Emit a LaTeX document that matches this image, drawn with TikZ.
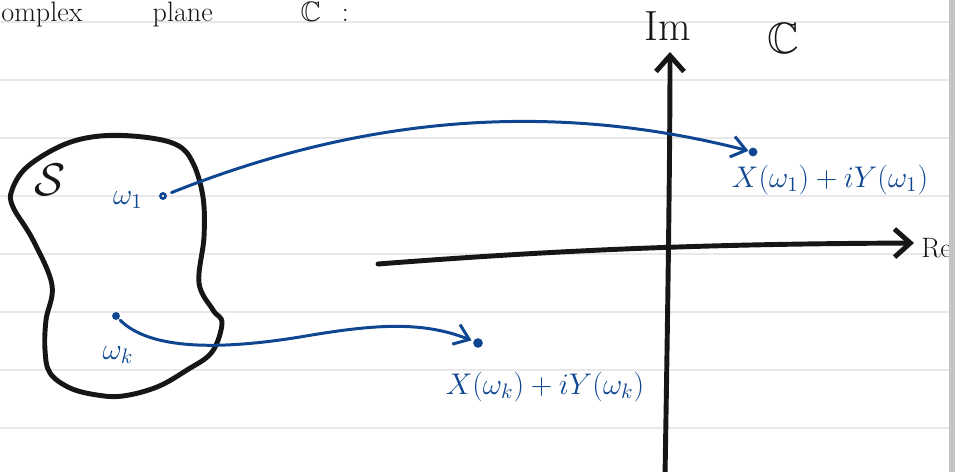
\RequirePackage{fix-cm}
\documentclass[tikz,border=0pt]{standalone}
\usepackage{amsmath,amssymb}
\usepackage{fontspec}
\usetikzlibrary{arrows.meta}
\definecolor{ink}{RGB}{14,70,145}
\definecolor{pen}{RGB}{22,22,22}
\definecolor{ruling}{RGB}{232,232,232}
\definecolor{scroll}{RGB}{196,196,196}
\begin{document}
\begin{tikzpicture}[x=0.02cm, y=-0.02cm,
  rule/.style={draw=ruling, line width=0.85pt},
  blob/.style={draw=pen, line width=2.8pt, line join=round},
  axis/.style={draw=pen, line width=2.8pt, line cap=round, -{Straight Barb[length=9pt,width=16pt]}},
  map/.style={draw=ink, line width=1.7pt, line cap=round, -{Straight Barb[length=8pt,width=12pt]}},
  spot/.style={circle, fill=ink, inner sep=0pt, minimum size=#1},
  ring/.style={circle, draw=ink, line width=1.4pt, inner sep=0pt, minimum size=3pt},
  lab/.style={text=ink, inner sep=0pt, font=\fontsize{17}{20}\selectfont},
  big/.style={text=pen, inner sep=0pt, font=\fontsize{#1}{#1}\selectfont}]
  \useasboundingbox (0,0) rectangle (960,472);
  \foreach \y in {22,80,...,428} \draw[rule] (0,\y) -- (951,\y);
  \node[big=16, anchor=base west] (title) at (1,22) {omplex\hspace{40pt}plane\hspace{50pt}$\mathbb{C}$\hspace{12pt}:};
  \draw[blob] plot[smooth cycle, tension=0.6] coordinates {(63,145) (100,136) (143,137) (177,145) (193,163) (203,197) (204,237) (199,283) (213,310) (222,323) (212,352) (187,370) (157,387) (123,396) (97,395) (70,388) (50,373) (45,350) (46,320) (52,285) (33,240) (13,207) (12,190) (27,167)};
  \node[big=26] (S) at (50,180) {$\mathcal{S}$};
  \node[lab] (w1) at (128,200) {$\omega_1$};
  \node[ring] (w1dot) at (163,196) {};
  \node[lab] (wk) at (118,355) {$\omega_k$};
  \node[spot=4.5pt] (wkdot) at (116,316) {};
  \coordinate (reA) at (378,264);
  \coordinate (reB) at (914,243);
  \coordinate (imA) at (665,476);
  \coordinate (imB) at (670,52);
  \draw[axis] (reA) .. controls (560,250) and (700,244) .. (reB);
  \draw[axis] (imA) .. controls (668,300) and (670,150) .. (imB);
  \node[big=16, anchor=west] (Re) at (921,248) {Re};
  \node[big=24] (Im) at (668,26) {Im};
  \node[big=25] (C) at (783,38) {$\mathbb{C}$};
  \node[spot=5pt] (z1dot) at (753,152) {};
  \node[spot=5.5pt] (zkdot) at (478,343) {};
  \node[lab] (z1) at (830,180) {$X(\omega_1)+iY(\omega_1)$};
  \node[lab] (zk) at (545,387) {$X(\omega_k)+iY(\omega_k)$};
  \draw[map, shorten <=3pt] (w1dot) .. controls (366,115) and (554,101) .. (z1dot);
  \draw[map, shorten <=1pt, shorten >=1pt] (wkdot) .. controls (150,350) and (220,350) .. (300,337) .. controls (370,325) and (420,320) .. (zkdot);
  \fill[scroll] (949,0) rectangle (955,472);
  \fill[white] (955,0) rectangle (960,472);
\end{tikzpicture}
\end{document}
